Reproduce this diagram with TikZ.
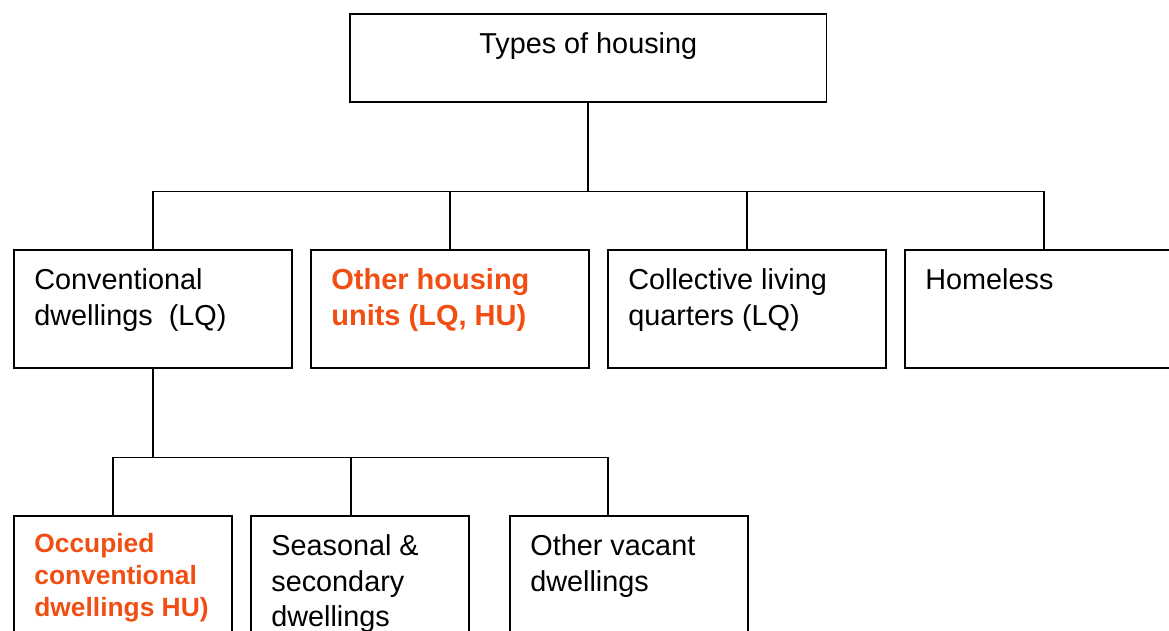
\documentclass[tikz,border=0pt]{standalone}
\usepackage{fontspec}
\setmainfont{Liberation Sans}
\definecolor{hotorange}{RGB}{240,78,18}
\begin{document}
\begin{tikzpicture}[x=0.02cm,y=-0.02cm,
    box/.style={draw=black, line width=0.9pt, rectangle, anchor=north west, inner sep=0pt},
    txt/.style={anchor=north west, inner sep=0pt, align=left, font=\fontsize{16.4}{20.4}\selectfont},
    hot/.style={anchor=north west, inner sep=0pt, align=left, text=hotorange, font=\fontsize{16.5}{20.4}\selectfont\bfseries},
    hotsmall/.style={hot, font=\fontsize{15}{18.2}\selectfont\bfseries},
    wire/.style={line width=0.9pt}]
       \useasboundingbox (0,0) rectangle (1169,630);
       \clip (0,0) rectangle (1169,630);
       \node[box, minimum width=9.54cm, minimum height=1.76cm] (top) at (349,13) {};
       \node[txt, anchor=north] (top-t) at ([yshift=-0.38cm]top.north) {Types of housing};
       \node[box, minimum width=5.56cm, minimum height=2.36cm] (conv) at (13,249) {};
       \node[box, minimum width=5.56cm, minimum height=2.36cm] (other) at (310,249) {};
       \node[box, minimum width=5.56cm, minimum height=2.36cm] (coll) at (607,249) {};
       \node[box, minimum width=5.56cm, minimum height=2.36cm] (homeless) at (904,249) {};
       \node[txt] (conv-t) at ([shift={(21,19)}]conv.north west) {Conventional\\dwellings\ \ (LQ)};
       \node[hot] (other-t) at ([shift={(21,19)}]other.north west) {Other housing\\units (LQ, HU)};
       \node[txt] (coll-t) at ([shift={(21,19)}]coll.north west) {Collective living\\quarters (LQ)};
       \node[txt] (homeless-t) at ([shift={(21,19)}]homeless.north west) {Homeless};
       \node[box, minimum width=4.36cm, minimum height=2.36cm] (occ) at (13,515) {};
       \node[box, minimum width=4.36cm, minimum height=2.36cm] (seas) at (250,515) {};
       \node[box, minimum width=4.76cm, minimum height=2.36cm] (vac) at (509,515) {};
       \node[hotsmall] (occ-t) at ([shift={(21,18)}]occ.north west) {Occupied\\conventional\\dwellings HU)};
       \node[txt] (seas-t) at ([shift={(21,19)}]seas.north west) {Seasonal \&\\secondary\\dwellings};
       \node[txt] (vac-t) at ([shift={(21,19)}]vac.north west) {Other vacant\\dwellings};
       \path (top.south) ++(0,89) coordinate (fork1);
       \draw[wire] (top.south) -- (fork1);
       \foreach \n in {conv,other,coll,homeless}
          \draw[wire] (fork1) -| (\n.north);
       \path (conv.south) ++(0,89) coordinate (fork2);
       \draw[wire] (conv.south) -- (fork2);
       \foreach \n/\s in {occ/-10,seas/-9,vac/-21}
          \draw[wire] (fork2) -| ([xshift=\s*0.02cm]\n.north);
\end{tikzpicture}
\end{document}
